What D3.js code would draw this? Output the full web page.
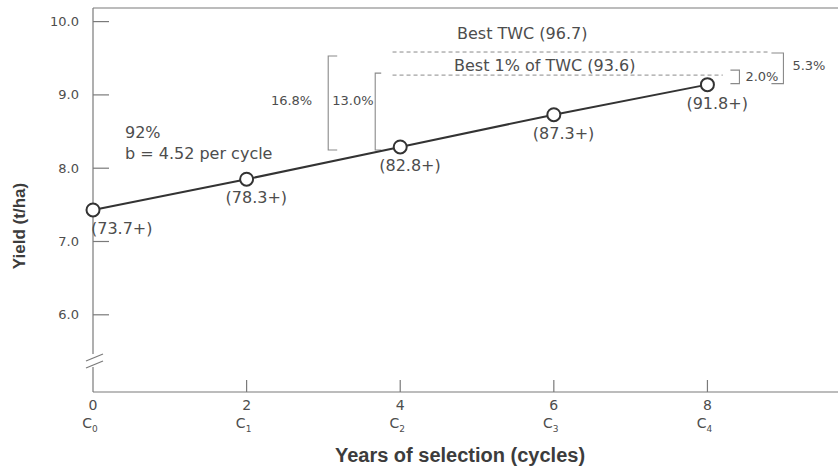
<!DOCTYPE html>
<html>
<head>
<meta charset="utf-8">
<script src="https://cdn.jsdelivr.net/npm/d3@7"></script>
<style>
  html, body { margin: 0; padding: 0; background: #fff; }
  svg { display: block; }
  text { font-family: "DejaVu Sans", sans-serif; fill: #4d4d4d; }
  .title { font-family: "Liberation Sans", Arial, sans-serif; font-weight: bold; fill: #3c3c3c; }
</style>
</head>
<body>
<svg id="chart" width="838" height="468"></svg>
<script>
// Selection cycles and mean yield of each cycle (t/ha)
const years = [0, 2, 4, 6, 8];
const cycleIndex = ["0", "1", "2", "3", "4"];
const yieldTha = [7.43, 7.85, 8.29, 8.73, 9.14];
// Yield of each cycle as a percentage of the reference
const pctLabels = ["73.7", "78.3", "82.8", "87.3", "91.8"];

// Reference levels (t/ha) and their captions
const refLevels = [9.585, 9.27];
const refLabels = ["Best TWC (96.7)", "Best 1% of TWC (93.6)"];

// Remaining gaps to the reference levels
const gapLabels = ["16.8%", "13.0%", "2.0%", "5.3%"];

const yTicks = [6, 7, 8, 9, 10];
const xTicks = [0, 2, 4, 6, 8];
const regressionLines = ["92%", "b = 4.52 per cycle"];

const svg = d3.select("#chart");
const axisColor = "#7a7a7a";

const x = d3.scaleLinear().domain([0, 9.7]).range([93, 838]);
const y = d3.scaleLinear().domain([6, 10]).range([314.8, 21.6]);

const frameTop = 8, frameBottom = 392;

// Frame: top rule and x axis baseline
svg.append("line").attr("x1", x(0)).attr("x2", 838).attr("y1", frameTop).attr("y2", frameTop)
  .attr("stroke", axisColor).attr("stroke-width", 1.2);
svg.append("line").attr("x1", x(0)).attr("x2", 838).attr("y1", frameBottom).attr("y2", frameBottom)
  .attr("stroke", axisColor).attr("stroke-width", 1.2);

// Y axis with a break near the bottom
svg.append("line").attr("x1", x(0)).attr("x2", x(0)).attr("y1", frameTop).attr("y2", 354)
  .attr("stroke", axisColor).attr("stroke-width", 1.2);
svg.append("line").attr("x1", x(0)).attr("x2", x(0)).attr("y1", 367).attr("y2", frameBottom)
  .attr("stroke", axisColor).attr("stroke-width", 1.2);
[[86, 368, 103, 361], [86, 361, 103, 354]].forEach(d => {
  svg.append("line").attr("x1", d[0]).attr("y1", d[1]).attr("x2", d[2]).attr("y2", d[3])
    .attr("stroke", axisColor).attr("stroke-width", 1.2);
});

// Y ticks (pointing inward) and labels
const yAxis = svg.append("g");
yAxis.selectAll("line").data(yTicks).join("line")
  .attr("x1", x(0)).attr("x2", x(0) + 16)
  .attr("y1", d => y(d)).attr("y2", d => y(d))
  .attr("stroke", axisColor).attr("stroke-width", 1.2);
yAxis.selectAll("text").data(yTicks).join("text")
  .attr("x", 79).attr("y", d => y(d) + 4.5)
  .attr("text-anchor", "end").attr("font-size", 13)
  .text(d => d3.format(".1f")(d));

// X ticks (pointing upward) and two-line labels
const xAxis = svg.append("g");
xAxis.selectAll("line").data(xTicks.filter(d => d > 0)).join("line")
  .attr("x1", d => x(d)).attr("x2", d => x(d))
  .attr("y1", frameBottom).attr("y2", frameBottom - 12)
  .attr("stroke", axisColor).attr("stroke-width", 1.2);
xAxis.selectAll("text.yr").data(xTicks).join("text").attr("class", "yr")
  .attr("x", d => x(d)).attr("y", 410)
  .attr("text-anchor", "middle").attr("font-size", 14)
  .text(d => d);
const cyc = xAxis.selectAll("text.cy").data(years).join("text").attr("class", "cy")
  .attr("x", d => x(d) - 3).attr("y", 428)
  .attr("text-anchor", "middle").attr("font-size", 14);
cyc.append("tspan").text("C");
cyc.append("tspan").attr("font-size", 9).attr("dy", 4).text((d, i) => cycleIndex[i]);

// Axis titles
svg.append("text").attr("class", "title")
  .attr("transform", "translate(25,226) rotate(-90)")
  .attr("text-anchor", "middle").attr("font-size", 17)
  .text("Yield (t/ha)");
svg.append("text").attr("class", "title")
  .attr("x", 460).attr("y", 462)
  .attr("text-anchor", "middle").attr("font-size", 20)
  .text("Years of selection (cycles)");

// Reference levels drawn as dashed lines with captions
const refEnds = [x(8.8), x(8.2)];
const refTextLift = [13, 4];
svg.selectAll("line.ref").data(refLevels).join("line").attr("class", "ref")
  .attr("x1", x(3.9)).attr("x2", (d, i) => refEnds[i])
  .attr("y1", d => y(d)).attr("y2", d => y(d))
  .attr("stroke", "#8a8a8a").attr("stroke-width", 1).attr("stroke-dasharray", "4,3");
svg.selectAll("text.ref").data(refLevels).join("text").attr("class", "ref")
  .attr("x", (d, i) => i === 0 ? 457 : 454)
  .attr("y", (d, i) => y(d) - refTextLift[i])
  .attr("font-size", 16)
  .text((d, i) => refLabels[i]);

// Brackets spanning a reference level down to a cycle mean
function bracket(xv, y1, y2, dir, arm) {
  const p = d3.path();
  p.moveTo(xv + dir * arm, y1);
  p.lineTo(xv, y1);
  p.lineTo(xv, y2);
  p.lineTo(xv + dir * arm, y2);
  svg.append("path").attr("d", p.toString())
    .attr("fill", "none").attr("stroke", "#8a8a8a").attr("stroke-width", 1.1);
}
bracket(x(4) - 72, y(refLevels[0]) + 4, y(yieldTha[2]) + 3, 1, 9);
bracket(x(4) - 25, y(refLevels[1]) - 2, y(yieldTha[2]) + 3, 1, 6);
bracket(x(8) + 32, y(refLevels[1]) - 5, y(yieldTha[4]) - 1, -1, 9);
bracket(x(8) + 76, y(refLevels[0]) + 1, y(yieldTha[4]) - 1, -1, 12);

svg.append("text").attr("x", x(4) - 88).attr("y", 105).attr("text-anchor", "end")
  .attr("font-size", 13).text(gapLabels[0]);
svg.append("text").attr("x", x(4) - 68).attr("y", 105)
  .attr("font-size", 13).text(gapLabels[1]);
svg.append("text").attr("x", x(8) + 38).attr("y", 81)
  .attr("font-size", 13).text(gapLabels[2]);
svg.append("text").attr("x", x(8) + 85).attr("y", 70)
  .attr("font-size", 13).text(gapLabels[3]);

// Regression annotation
svg.selectAll("text.reg").data(regressionLines).join("text").attr("class", "reg")
  .attr("x", 125).attr("y", (d, i) => 138 + i * 21)
  .attr("font-size", 16).text(d => d);

// Cycle means: line and open circles
const pts = years.map((d, i) => [x(d), y(yieldTha[i])]);
svg.append("path").attr("d", d3.line()(pts))
  .attr("fill", "none").attr("stroke", "#333").attr("stroke-width", 2);
svg.selectAll("circle").data(pts).join("circle")
  .attr("cx", d => d[0]).attr("cy", d => d[1]).attr("r", 6.5)
  .attr("fill", "#fff").attr("stroke", "#333").attr("stroke-width", 2);

svg.selectAll("text.pt").data(pts).join("text").attr("class", "pt")
  .attr("x", (d, i) => d[0] + (i === 0 ? -2 : -21))
  .attr("y", d => d[1] + 24)
  .attr("font-size", 16)
  .text((d, i) => "(" + pctLabels[i] + "+)");
</script>
</body>
</html>
